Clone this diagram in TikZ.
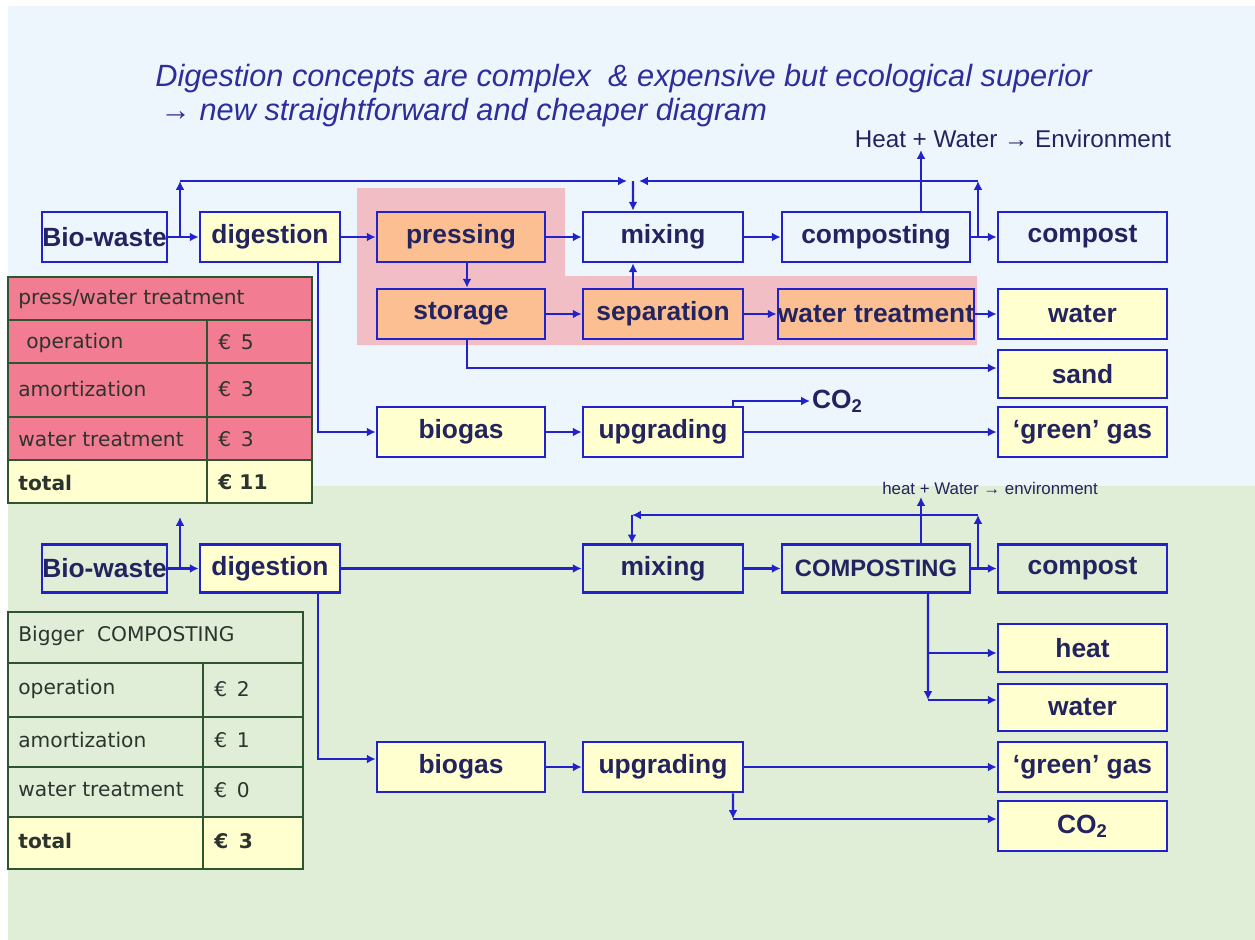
\documentclass[tikz,border=0pt]{standalone}
\usepackage{fontspec}
\setmainfont{Liberation Sans}
\newfontfamily\tabfont{DejaVu Sans}
\usetikzlibrary{arrows.meta}

\definecolor{flowblue}{RGB}{34,34,204}
\definecolor{boxtext}{RGB}{35,35,95}
\definecolor{skyback}{RGB}{238,246,253}
\definecolor{greenback}{RGB}{224,238,216}
\definecolor{paleyellow}{RGB}{255,255,208}
\definecolor{peach}{RGB}{251,191,145}
\definecolor{rosezone}{RGB}{242,190,198}
\definecolor{rosecell}{RGB}{242,124,146}
\definecolor{gridgreen}{RGB}{47,85,48}
\definecolor{titleblue}{RGB}{46,46,154}
\definecolor{celltext}{RGB}{45,52,45}

\begin{document}
\begin{tikzpicture}[
    x=0.02cm, y=-0.02cm,
    box/.style={draw=flowblue, line width=1.5pt, minimum height=1cm, inner sep=0pt,
        text=boxtext, font=\bfseries\fontsize{15}{17}\selectfont},
    flow/.style={-{Latex[length=5pt,width=5pt]}, draw=flowblue, line width=1.4pt},
    grid/.style={draw=gridgreen, line width=1.4pt},
    cell/.style={anchor=west, inner sep=0pt, text=celltext, font=\tabfont\fontsize{11.5}{13}\selectfont},
    heading/.style={anchor=west, inner sep=0pt, text=titleblue, font=\itshape\fontsize{17.5}{20}\selectfont},
    note/.style={inner sep=1pt, text=boxtext}
]
    \useasboundingbox (0,0) rectangle (1255,940);

    % Backgrounds
    \fill[white] (0,0) rectangle (1255,940);
    \fill[skyback] (8,6) rectangle (1255,486);
    \fill[greenback] (8,486) rectangle (1255,940);
    \fill[rosezone] (357,188) -- (565,188) -- (565,276) -- (977,276) -- (977,345) -- (357,345) -- cycle;

    % Title
    \node[heading] (head1) at (155,79) {Digestion concepts are complex \ \& expensive but ecological superior};
    \node[heading] (head2) at (160,113) {→ new straightforward and cheaper diagram};

    % Upper scheme: current concept
    \node[box, minimum width=2.5cm, minimum height=1cm] (bw1) at (104.5,237) {Bio-waste};
    \node[box, fill=paleyellow, minimum width=2.8cm] (dig1) at (270,237) {digestion};
    \node[box, fill=peach, minimum width=3.36cm] (press1) at (461,237) {pressing};
    \node[box, minimum width=3.2cm] (mix1) at (663,237) {mixing};
    \node[box, minimum width=3.76cm] (comp1) at (876,237) {composting};
    \node[box, minimum width=3.38cm] (cpt1) at (1082.5,237) {compost};

    \node[box, fill=peach, minimum width=3.36cm] (stor1) at (461,314) {storage};
    \node[box, fill=peach, minimum width=3.2cm] (sep1) at (663,314) {separation};
    \node[box, fill=peach, minimum width=3.76cm] (wt1) at (876,314) {water treatment};
    \node[box, fill=paleyellow, minimum width=3.38cm] (wat1) at (1082.5,314) {water};
    \node[box, fill=paleyellow, minimum width=3.38cm, minimum height=0.96cm] (sand1) at (1082.5,374) {sand};

    \node[box, fill=paleyellow, minimum width=3.36cm] (bio1) at (461,432) {biogas};
    \node[box, fill=paleyellow, minimum width=3.2cm] (upg1) at (663,432) {upgrading};
    \node[box, fill=paleyellow, minimum width=3.38cm] (gg1) at (1082.5,432) {‘green’ gas};
    \node[note, anchor=west, font=\bfseries\fontsize{15}{17}\selectfont] (co2a) at (810,401) {CO\textsubscript{2}};
    \node[note, anchor=south, font=\fontsize{13.8}{16}\selectfont] (env1) at (1013,150) {Heat + Water → Environment};

    \coordinate (j1) at (180,237);
    \coordinate (t1) at (180,181);
    \coordinate (t2) at (627,181);
    \coordinate (t3) at (978,181);
    \coordinate (t2b) at (639,181);
    \coordinate (j2) at (978,237);

    \draw[flow] (bw1) -- (dig1);
    \draw[flow] (j1) -- (t1);
    \draw[flow] (t1) -- (t2);
    \draw[flow] (j2) -- (t3);
    \draw[flow] (t3) -- (t2b);
    \draw[flow] (633,181) -- ([xshift=-0.6cm]mix1.north);
    \draw[flow] (dig1) -- (press1);
    \draw[flow] ([xshift=0.96cm]dig1.south) |- (bio1.west);
    \draw[flow] (press1) -- (mix1);
    \draw[flow] ([xshift=0.12cm]press1.south) -- ([xshift=0.12cm]stor1.north);
    \draw[flow] (stor1) -- (sep1);
    \draw[flow] ([xshift=-0.6cm]sep1.north) -- ([xshift=-0.6cm]mix1.south);
    \draw[flow] (sep1) -- (wt1);
    \draw[flow] (wt1) -- (wat1);
    \draw[flow] ([xshift=0.12cm]stor1.south) |- ([yshift=0.12cm]sand1.west);
    \draw[flow] (mix1) -- (comp1);
    \draw[flow] (comp1) -- (cpt1);
    \draw[flow] ([xshift=0.9cm]comp1.north) -- ([xshift=0.9cm]comp1.north |- env1.south);
    \draw[flow] (bio1) -- (upg1);
    \draw[flow] (upg1) -- (gg1);
    \draw[flow] ([xshift=1.4cm]upg1.north) |- (co2a.west);

    % Cost table: press/water treatment
    \fill[rosecell] (8,277) rectangle (312,460);
    \fill[paleyellow] (8,460) rectangle (312,503);
    \draw[grid] (8,277) rectangle (312,503);
    \draw[grid] (8,320) -- (312,320) (8,363) -- (312,363) (8,417) -- (312,417) (8,460) -- (312,460);
    \draw[grid] (207,320) -- (207,503);
    \node[cell] (pw0) at (18,299.5) {press/water treatment};
    \node[cell] (pw1) at (26,342.5) {operation};
    \node[cell] (pw2) at (18,389) {amortization};
    \node[cell] (pw3) at (18,439.5) {water treatment};
    \node[cell, font=\tabfont\bfseries\fontsize{11.5}{13}\selectfont] (pw4) at (18,482.5) {total};
    \node[cell] (pv1) at (218,342.5) {€ \,5};
    \node[cell] (pv2) at (218,389) {€ \,3};
    \node[cell] (pv3) at (218,439.5) {€ \,3};
    \node[cell, font=\tabfont\bfseries\fontsize{11.5}{13}\selectfont] (pv4) at (218,482.5) {€ 11};

    % Lower scheme: new concept
    \node[box, minimum width=2.5cm, minimum height=0.95cm] (bw2) at (104.5,568.5) {Bio-waste};
    \node[box, fill=paleyellow, minimum width=2.8cm, minimum height=0.95cm] (dig2) at (270,568.5) {digestion};
    \node[box, minimum width=3.2cm, minimum height=0.95cm] (mix2) at (663,568.5) {mixing};
    \node[box, minimum width=3.76cm, minimum height=0.95cm, font=\bfseries\fontsize{13.5}{15}\selectfont] (comp2) at (876,568.5) {COMPOSTING};
    \node[box, minimum width=3.38cm, minimum height=0.95cm] (cpt2) at (1082.5,568.5) {compost};
    \node[box, fill=paleyellow, minimum width=3.38cm, minimum height=0.96cm] (heat2) at (1082.5,648) {heat};
    \node[box, fill=paleyellow, minimum width=3.38cm, minimum height=0.94cm] (wat2) at (1082.5,707.5) {water};
    \node[box, fill=paleyellow, minimum width=3.38cm] (gg2) at (1082.5,767) {‘green’ gas};
    \node[box, fill=paleyellow, minimum width=3.38cm] (co2b) at (1082.5,826) {CO\textsubscript{2}};
    \node[box, fill=paleyellow, minimum width=3.36cm] (bio2) at (461,767) {biogas};
    \node[box, fill=paleyellow, minimum width=3.2cm] (upg2) at (663,767) {upgrading};
    \node[note, anchor=south, font=\fontsize{9.6}{11}\selectfont] (env2) at (990,497) {heat + Water → environment};

    \coordinate (j3) at (180,568.5);
    \coordinate (t4) at (180,517);
    \coordinate (j4) at (978,568.5);
    \coordinate (t5) at (978,515);
    \coordinate (t6) at (632,515);
    \coordinate (j5) at (928,653);
    \coordinate (t7) at (928,700);
    \coordinate (t8) at (733,819);

    \draw[flow] (bw2) -- (dig2);
    \draw[flow] (j3) -- (t4);
    \draw[flow] (dig2) -- (mix2);
    \draw[flow] ([xshift=0.96cm]dig2.south) |- ([yshift=0.16cm]bio2.west);
    \draw[flow] (mix2) -- (comp2);
    \draw[flow] (comp2) -- (cpt2);
    \draw[flow] (j4) -- (t5);
    \draw[flow] (t5) -- (t6);
    \draw[flow] (t6) -- (t6 |- mix2.north);
    \draw[flow] ([xshift=0.9cm]comp2.north) -- ([xshift=0.9cm]comp2.north |- env2.south);
    \draw[flow] ([xshift=1.04cm]comp2.south) -- (t7);
    \draw[flow] (t7) -- (t7 -| wat2.west);
    \draw[flow] (j5) -- (j5 -| heat2.west);
    \draw[flow] (bio2) -- (upg2);
    \draw[flow] (upg2) -- (gg2);
    \draw[flow] ([xshift=1.4cm]upg2.south) -- (t8);
    \draw[flow] (t8) -- (t8 -| co2b.west);

    % Cost table: bigger composting
    \fill[paleyellow] (8,817) rectangle (303,869);
    \draw[grid] (8,612) rectangle (303,869);
    \draw[grid] (8,663) -- (303,663) (8,717) -- (303,717) (8,767) -- (303,767) (8,817) -- (303,817);
    \draw[grid] (203,663) -- (203,869);
    \node[cell] (bc0) at (18,636) {Bigger \ COMPOSTING};
    \node[cell] (bc1) at (18,689) {operation};
    \node[cell] (bc2) at (18,740) {amortization};
    \node[cell] (bc3) at (18,790) {water treatment};
    \node[cell, font=\tabfont\bfseries\fontsize{11.5}{13}\selectfont] (bc4) at (18,841) {total};
    \node[cell] (bv1) at (214,689) {€ \,2};
    \node[cell] (bv2) at (214,740) {€ \,1};
    \node[cell] (bv3) at (214,790) {€ \,0};
    \node[cell, font=\tabfont\bfseries\fontsize{11.5}{13}\selectfont] (bv4) at (214,841) {€ \,3};
\end{tikzpicture}
\end{document}
